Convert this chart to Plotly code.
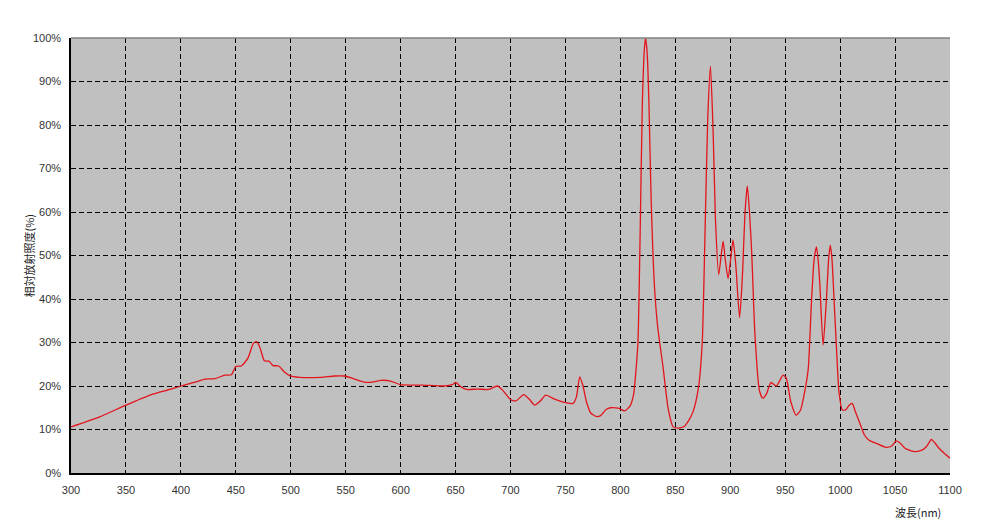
import plotly.graph_objects as go

wavelength = [300, 326, 350, 372, 390, 400, 413, 422, 431, 440, 446, 450, 455, 461, 466, 469, 472, 476, 480, 484,
              489, 494, 499, 508, 527, 540, 549, 558, 567, 574, 582, 590, 600, 620, 640, 647, 650, 655, 660, 670,
              680, 688, 693, 700, 705, 712, 717, 722, 727, 732, 740, 750, 757, 760, 763, 766, 769, 773, 778, 782,
              787, 791, 798, 804, 809, 812, 814, 816, 818, 820, 822, 823, 824.5, 826, 828, 831, 834, 839, 843.5, 848,
              852, 858, 862, 866, 871, 874.5, 877, 879.5, 882, 884.5, 886.5, 889.5, 891.5, 893.5, 895.5, 898, 900.5,
              902.5, 905, 908.5, 911, 913.5, 915.5, 917.5, 919.5, 922.5, 926.5, 929.5, 933, 937, 942, 948, 951, 955,
              960, 964, 968, 971, 974, 976.5, 978.5, 980, 981.5, 984.5, 987.5, 989.5, 991, 992.5, 994.5, 997, 999,
              1002, 1005, 1008, 1011, 1014, 1018, 1022, 1026, 1033, 1042, 1047, 1051, 1055, 1059, 1068, 1075, 1079,
              1083, 1086, 1090, 1095, 1100]
irradiance = [10.6, 12.9, 15.6, 17.9, 19.2, 20.0, 20.9, 21.6, 21.7, 22.5, 22.6, 24.5, 24.6, 26.4, 29.8, 30.2, 28.8,
              25.8, 25.7, 24.7, 24.6, 23.3, 22.4, 22.0, 22.0, 22.3, 22.3, 21.6, 20.9, 20.9, 21.3, 21.2, 20.3, 20.2,
              20.0, 20.3, 20.8, 19.8, 19.2, 19.3, 19.2, 20.0, 19.0, 16.9, 16.6, 18.0, 17.0, 15.6, 16.5, 17.9, 17.0,
              16.2, 16.0, 17.5, 22.1, 20.0, 16.5, 13.8, 13.0, 13.2, 14.6, 15.0, 14.9, 14.3, 15.5, 18.0, 23.0, 30.0,
              55.0, 85.0, 98.0, 100.0, 96.0, 85.0, 63.0, 43.0, 33.5, 24.0, 14.8, 10.6, 10.3, 10.7, 12.0, 14.0, 19.5,
              30.0, 54.7, 81.5, 93.5, 77.7, 58.5, 45.6, 49.5, 53.3, 49.0, 44.7, 49.5, 53.6, 48.0, 35.7, 45.0, 60.0,
              66.0, 60.0, 50.8, 31.7, 19.0, 17.2, 18.2, 20.8, 20.0, 22.5, 21.8, 16.5, 13.3, 14.5, 19.0, 24.0, 39.8,
              49.5, 52.0, 49.0, 43.6, 29.4, 39.8, 49.0, 52.4, 49.5, 39.8, 27.0, 18.5, 14.5, 14.5, 15.5, 16.0, 14.0,
              11.4, 8.8, 7.6, 6.8, 5.9, 6.2, 7.4, 6.8, 5.7, 4.9, 5.3, 6.2, 7.7, 7.0, 5.7, 4.5, 3.4]

x_ticks = list(range(300, 1101, 50))
y_ticks = list(range(0, 101, 10))
y_tick_labels = [f"{v}%" for v in y_ticks]

OFF = 8  # page body margin
W, H = 984 - OFF, 528 - OFF
L, T = 71 - OFF, 38 - OFF
pw, ph = 879, 435            # actual plot area size
pfull = 980 - 71             # paper width, extended to include the page border line
R = W - L - pfull
B = H - T - ph
fx = lambda px: (px - 71) / pfull   # page-x -> paper fraction

fig = go.Figure()
fig.add_trace(go.Scatter(
    x=wavelength, y=irradiance, mode="lines",
    line=dict(color="#e3141c", width=1.3, shape="spline", smoothing=0.6),
    hoverinfo="x+y", showlegend=False,
))

tickfont = dict(family="Liberation Sans, Arial, sans-serif", size=11, color="#333333")
fig.update_layout(
    width=W, height=H,
    margin=dict(l=L, r=R, t=T, b=B),
    paper_bgcolor="white",
    plot_bgcolor="#c0c0c0",
    xaxis=dict(
        domain=[0, pw / pfull], automargin=False,
        range=[300, 1100], tickvals=x_ticks, ticktext=[str(v) for v in x_ticks],
        showgrid=True, gridcolor="black", griddash="5px,3px", gridwidth=1,
        showline=True, linecolor="black", linewidth=1.5,
        ticks="", tickfont=tickfont, zeroline=False, ticklabelstandoff=6,
    ),
    yaxis=dict(
        automargin=False,
        range=[0, 100], tickvals=y_ticks, ticktext=y_tick_labels,
        showgrid=True, gridcolor="black", griddash="5px,3px", gridwidth=1,
        showline=True, linecolor="black", linewidth=1.5,
        ticks="", tickfont=tickfont, zeroline=False, ticklabelstandoff=6,
    ),
    shapes=[
        dict(type="line", xref="paper", yref="paper", x0=0, x1=pw / pfull, y0=1, y1=1,
             line=dict(color="#808080", width=1.5), layer="above"),
        dict(type="line", xref="paper", yref="paper",
             x0=fx(978), x1=fx(978), y0=-B / ph, y1=1 + T / ph,
             line=dict(color="black", width=1.5), layer="above"),
    ],
    annotations=[
        dict(text="相対放射照度(%)", xref="paper", yref="paper",
             x=fx(28), y=0.5, xanchor="center", yanchor="middle",
             textangle=-90, showarrow=False,
             font=dict(family="Noto Sans CJK JP", size=11, color="#222222")),
        dict(text="波長(nm)", xref="paper", yref="paper",
             x=fx(918), y=-(512 - 473) / ph, xanchor="center", yanchor="middle",
             showarrow=False,
             font=dict(family="Noto Sans CJK JP", size=11, color="#222222")),
    ],
)

fig.write_html("out.html", post_script="document.body.style.overflow='hidden';")
